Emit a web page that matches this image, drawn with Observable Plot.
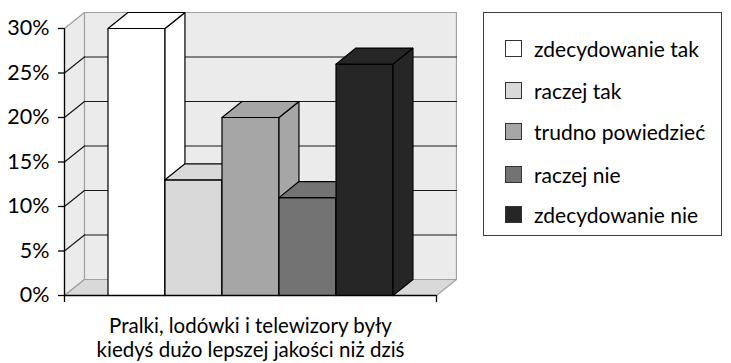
<!DOCTYPE html>
<html><head><meta charset="utf-8">
<script src="https://cdn.jsdelivr.net/npm/d3@7"></script>
<script src="https://cdn.jsdelivr.net/npm/@observablehq/plot@0.6"></script>
<style>
body{margin:0;background:#fff;font-family:Lato,sans-serif}
#wrap{position:relative;width:731px;height:363px;overflow:hidden}
#legend{position:absolute;left:483px;top:12px;width:239px;height:224px;border:1px solid #404040;box-sizing:border-box;background:#fff}
.item{position:absolute;left:21px;height:26px;display:flex;align-items:center;font-size:21px;color:#000;white-space:nowrap}
.sw{width:17px;height:17px;border:1px solid #333;box-sizing:border-box;margin-right:12px;flex:none}
</style></head><body><div id="wrap"></div>
<script>
const categories = ["zdecydowanie tak","raczej tak","trudno powiedzieć","raczej nie","zdecydowanie nie"];
const values = [30, 13, 20, 11, 26];
const colors = ["#ffffff","#d9d9d9","#a6a6a6","#737373","#262626"];
const question = "Pralki, lodówki i telewizory były\nkiedyś dużo lepszej jakości niż dziś";
const yTicks = [0, 5, 10, 15, 20, 25, 30];

// 3D geometry in data units
const G = 0.763;          // gap between wall and first/last bar (bar widths)
const DX = 0.35;          // depth offset in x units
const DY = 1.8;           // depth offset in y units (%)
const X0 = -G, X1 = categories.length + G, YMAX = 30;

function poly(id, pts) {
  const a = pts.map(([x, y]) => ({id, x, y}));
  a.push({id, x: pts[0][0], y: pts[0][1]});
  return a;
}
const leftWall = poly("lw", [[X0,0],[X0+DX,DY],[X0+DX,YMAX+DY],[X0,YMAX]]);
const backWall = poly("bw", [[X0+DX,DY],[X1+DX,DY],[X1+DX,YMAX+DY],[X0+DX,YMAX+DY]]);
const floor = poly("fl", [[X0,0],[X1,0],[X1+DX,DY],[X0+DX,DY]]);
const inner = yTicks.filter(t => t > 0 && t < YMAX);
const backGrid = inner.flatMap(t => [{id:t, x:X0+DX, y:t+DY},{id:t, x:X1+DX, y:t+DY}]);
const sideGrid = inner.flatMap(t => [{id:t, x:X0, y:t},{id:t, x:X0+DX, y:t+DY}]);

function barFaces(i) {
  const v = values[i], a = i, b = i + 1;
  return [
    ...poly("front", [[a,0],[b,0],[b,v],[a,v]]),
    ...poly("side", [[b,0],[b+DX,DY],[b+DX,v+DY],[b,v]]),
    ...poly("top", [[a,v],[b,v],[b+DX,v+DY],[a+DX,v+DY]])
  ];
}

const marks = [
  Plot.line(backWall, {x:"x", y:"y", z:"id", fill:"#ebebeb", stroke:"#a0a0a0", strokeWidth:1.2}),
  Plot.line(leftWall, {x:"x", y:"y", z:"id", fill:"#ebebeb", stroke:"#a0a0a0", strokeWidth:1.2}),
  Plot.line(floor, {x:"x", y:"y", z:"id", fill:"#d9d9d9", stroke:"#a0a0a0", strokeWidth:1.2}),
  Plot.line(backGrid, {x:"x", y:"y", z:"id", stroke:"#1a1a1a", strokeWidth:1.2}),
  Plot.line(sideGrid, {x:"x", y:"y", z:"id", stroke:"#1a1a1a", strokeWidth:1.2}),
  ...categories.map((c, i) => Plot.line(barFaces(i), {x:"x", y:"y", z:"id", fill:colors[i], stroke:"#000", strokeWidth:1.2, strokeLinejoin:"miter"})),
  Plot.ruleX([X0], {y1:0, y2:YMAX, stroke:"#000", strokeWidth:1.3}),
  Plot.ruleY([0], {x1:X0, x2:X1, stroke:"#000", strokeWidth:1.3}),
  Plot.axisY({ticks: yTicks, tickFormat: d => d + "%", tickSize: 6, tickPadding: 9, fontSize: 21.5, label: null, stroke:"#000", strokeWidth:1.3}),
  Plot.axisX({ticks: [X0, X1], tickFormat: () => "", tickSize: 7, label: null, stroke:"#000", strokeWidth:1.3}),
  Plot.text([question], {x: categories.length / 2, y: 0, dy: 42, text: d => d, fontSize: 20.5, lineHeight: 1.17, fill:"#000"})
];

const chart = Plot.plot({
  width: 731, height: 363,
  marginLeft: 64, marginRight: 731 - 436, marginTop: 28, marginBottom: 68,
  x: {domain: [X0, X1]},
  y: {domain: [0, YMAX]},
  style: {fontFamily: "Lato, sans-serif", fontSize: "19px", color: "#000", background: "transparent", overflow: "visible"},
  marks
});
const wrap = document.getElementById("wrap");
wrap.appendChild(chart);

const legend = document.createElement("div");
legend.id = "legend";
const centers = [35, 77, 118, 161, 201];
categories.forEach((c, i) => {
  const it = document.createElement("div");
  it.className = "item";
  it.style.top = (centers[i] - 13) + "px";
  const sw = document.createElement("span");
  sw.className = "sw";
  sw.style.background = colors[i];
  it.appendChild(sw);
  it.appendChild(document.createTextNode(c));
  legend.appendChild(it);
});
wrap.appendChild(legend);
</script></body></html>
